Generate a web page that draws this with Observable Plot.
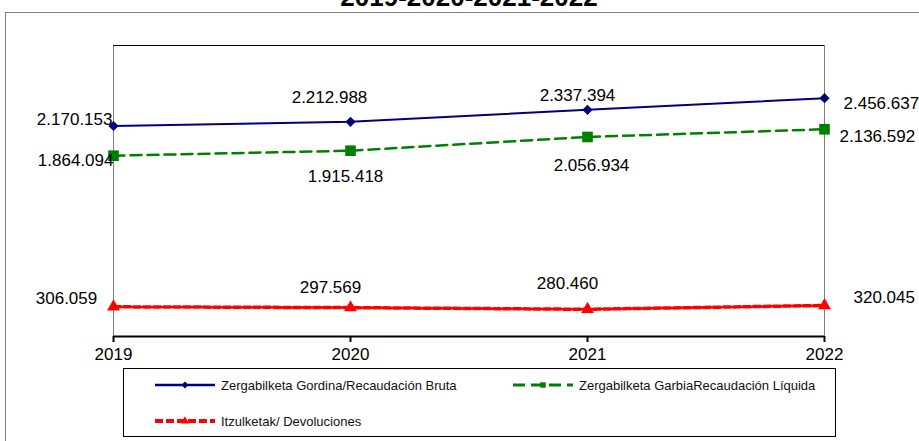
<!DOCTYPE html>
<html>
<head>
<meta charset="utf-8">
<script src="https://cdn.jsdelivr.net/npm/d3@7"></script>
<script src="https://cdn.jsdelivr.net/npm/@observablehq/plot@0.6"></script>
<style>
  html, body { margin: 0; padding: 0; background: #fff; overflow: hidden; }
  #wrap { position: relative; width: 919px; height: 441px; overflow: hidden; font-family: "Liberation Sans", Arial, sans-serif; }
  #frame { position: absolute; left: 5px; top: 12px; width: 960px; height: 470px; border: 1px solid #808080; box-sizing: border-box; }
  #title { position: absolute; left: 0; width: 938px; top: -18px; text-align: center; font: bold 26px "Liberation Sans", Arial, sans-serif; color: #000; }
  #chart { position: absolute; left: 0; top: 0; }
  #legend { position: absolute; left: 123px; top: 368px; width: 713px; height: 69px; border: 1px solid #000; box-sizing: border-box; background: #fff; }
  .item { position: absolute; display: flex; align-items: center; font: 13px "Liberation Sans", Arial, sans-serif; color: #111; }
  .item svg { margin-right: 5px; }
</style>
</head>
<body>
<div id="wrap">
  <div id="frame"></div>
  <div id="title"></div>
  <div id="chart"></div>
  <div id="legend"></div>
</div>
<script>
// ---- data ----
const titleText = "2019-2020-2021-2022";
const years = [2019, 2020, 2021, 2022];
const seriesNames = [
  "Zergabilketa Gordina/Recaudación Bruta",
  "Zergabilketa GarbiaRecaudación Líquida",
  "Itzulketak/ Devoluciones"
];
const bruta = [2170153, 2212988, 2337394, 2456637];
const liquida = [1864094, 1915418, 2056934, 2136592];
const devoluciones = [306059, 297569, 280460, 320045];
const yDomain = [0, 3000000];

// ---- styles ----
const styles = [
  {color: "#000080", width: 2, dash: null, symbol: "diamond2", r: 4.6,
   labels: [{a: "end", dx: -1, dy: -6}, {a: "middle", dx: -21, dy: -24}, {a: "middle", dx: -10, dy: -14}, {a: "start", dx: 19, dy: 5}]},
  {color: "#008000", width: 2.5, dash: "11,6", symbol: "square", r: 6,
   labels: [{a: "end", dx: 0, dy: 5}, {a: "middle", dx: -5, dy: 26}, {a: "middle", dx: 4, dy: 29}, {a: "start", dx: 15, dy: 7}]},
  {color: "#ff0000", width: 3.5, dash: "7,3", symbol: "triangle", r: 4.8,
   labels: [{a: "middle", dx: -47, dy: -8}, {a: "middle", dx: -20, dy: -20}, {a: "middle", dx: -20, dy: -26}, {a: "start", dx: 29, dy: -8}]}
];

const fmt = d3.formatLocale({decimal: ",", thousands: ".", grouping: [3], currency: ["", ""]}).format(",d");
const allValues = [bruta, liquida, devoluciones];
const rows = [];
allValues.forEach((vals, s) => vals.forEach((v, i) => rows.push({series: s, year: years[i], value: v, i})));

document.getElementById("title").textContent = titleText;

const marks = [
  Plot.ruleX([years[0], years[years.length - 1]], {x: d => d, stroke: "#808080", strokeWidth: 1}),
  Plot.ruleY([yDomain[1]], {stroke: "#000", strokeWidth: 1}),
  Plot.axisX({ticks: years, tickFormat: d => String(d), tickSize: 6, tickPadding: 5, stroke: "#000", strokeWidth: 2,
    fontSize: 17, fontFamily: "Liberation Sans, Arial, sans-serif", fill: "#000", label: null})
];
styles.forEach((st, s) => {
  const data = rows.filter(r => r.series === s);
  marks.push(Plot.line(data, {x: "year", y: "value", stroke: st.color, strokeWidth: st.width, strokeDasharray: st.dash}));
  marks.push(Plot.dot(data, {x: "year", y: "value", fill: st.color, stroke: "none", symbol: st.symbol, r: st.r}));
  ["start", "middle", "end"].forEach(anchor => {
    const sub = data.filter(d => st.labels[d.i].a === anchor);
    const groups = d3.group(sub, d => st.labels[d.i].dx + "," + st.labels[d.i].dy);
    for (const [, g] of groups) {
      const L = st.labels[g[0].i];
      marks.push(Plot.text(g, {x: "year", y: "value", text: d => fmt(d.value), textAnchor: anchor,
        dx: L.dx, dy: L.dy, fontSize: 17, fill: "#000", fontFamily: "Liberation Sans, Arial, sans-serif"}));
    }
  });
});
marks.push(Plot.ruleY([0], {stroke: "#000", strokeWidth: 2}));

const chart = Plot.plot({
  width: 919, height: 441,
  marginLeft: 113, marginRight: 95, marginTop: 45, marginBottom: 105,
  x: {domain: [years[0], years[years.length - 1]], axis: null},
  y: {domain: yDomain, axis: null},
  style: {background: "transparent", fontFamily: "Liberation Sans, Arial, sans-serif"},
  marks
});
document.getElementById("chart").appendChild(chart);

// ---- legend ----
const legendPos = [{left: 30, top: 8}, {left: 388, top: 8}, {left: 30, top: 44}];
const legend = document.getElementById("legend");
styles.forEach((st, s) => {
  const item = document.createElement("div");
  item.className = "item";
  item.style.left = legendPos[s].left + "px";
  item.style.top = legendPos[s].top + "px";
  const svg = d3.create("svg").attr("width", 62).attr("height", 16);
  svg.append("line").attr("x1", 1).attr("x2", 61).attr("y1", 8).attr("y2", 8)
    .attr("stroke", st.color).attr("stroke-width", st.width + 0.5)
    .attr("stroke-dasharray", s === 1 ? "12,6" : s === 2 ? "8,3" : null);
  const sym = {diamond2: d3.symbolDiamond2, square: d3.symbolSquare, triangle: d3.symbolTriangle}[st.symbol];
  svg.append("path").attr("transform", "translate(31,8)").attr("d", d3.symbol(sym, 30)()).attr("fill", st.color);
  item.appendChild(svg.node());
  const span = document.createElement("span");
  span.textContent = seriesNames[s];
  item.appendChild(span);
  legend.appendChild(item);
});
</script>
</body>
</html>
